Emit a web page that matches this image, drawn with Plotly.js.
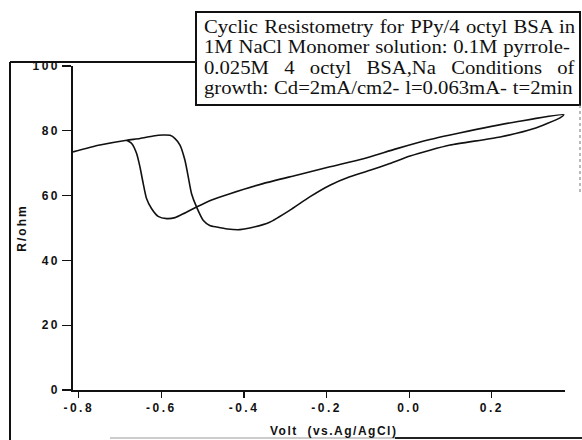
<!DOCTYPE html>
<html>
<head>
<meta charset="utf-8">
<script src="https://cdn.plot.ly/plotly-3.0.1.min.js"></script>
<style>
html, body { margin: 0; padding: 0; background: #fff; }
#chart { width: 582px; height: 440px; }
.xtick text, .ytick text { letter-spacing: 2.5px; }
.g-ytitle text { letter-spacing: 2px; }
g.annotation.note text { transform-box: fill-box; transform-origin: 0% 50%; transform: scaleX(1.15); }
g.annotation[data-index="0"] text { word-spacing: 1px; }
g.annotation[data-index="1"] text { word-spacing: 0.5px; }
g.annotation[data-index="2"] text { word-spacing: 8.8px; }
g.annotation[data-index="3"] text { word-spacing: 0.5px; }
g.annotation[data-index="4"] text { letter-spacing: 1.5px; }
</style>
</head>
<body>
<div id="chart"></div>
<script>
// Potential (V vs Ag/AgCl) and resistance (ohm), read along the cyclic sweep
const voltage = [
  -0.814, -0.749, -0.684, -0.652, -0.620, -0.596, -0.579, -0.567, -0.555, -0.543,
  -0.535, -0.527, -0.515, -0.499, -0.483, -0.466, -0.440, -0.410, -0.386, -0.338,
  -0.289, -0.241, -0.192, -0.144, -0.095, -0.047, 0.002, 0.050, 0.099, 0.220,
  0.300, 0.365, 0.374,
  0.260, 0.099, 0.050, -0.030, -0.111, -0.192, -0.273, -0.354, -0.434, -0.480,
  -0.515, -0.547, -0.567, -0.587, -0.608, -0.624, -0.636, -0.644, -0.652, -0.660,
  -0.672, -0.684
];
const resistance = [
  73.5, 75.6, 77.1, 77.6, 78.4, 78.7, 78.6, 77.6, 75.6, 70.9,
  65.8, 60.6, 56.5, 52.4, 50.8, 50.3, 49.7, 49.5, 50.0, 51.8,
  55.5, 59.6, 63.2, 65.8, 67.8, 69.9, 72.2, 74.0, 75.6, 78.1,
  80.6, 84.0, 85.0,
  82.8, 78.7, 77.3, 74.5, 71.4, 68.9, 66.3, 63.7, 60.6, 58.6,
  56.5, 54.4, 53.2, 52.9, 53.6, 56.0, 59.1, 63.7, 68.9, 73.0,
  76.1, 77.1
];
const xTicks = [-0.8, -0.6, -0.4, -0.2, 0.0, 0.2];
const xTickText = ["-0.8", "-0.6", "-0.4", "-0.2", "0.0", "0.2"];
const yTicks = [0, 20, 40, 60, 80, 100];
const yTickText = ["0", "20", "40", "60", "80", "100"];
const noteLines = [
  "Cyclic Resistometry for PPy/4 octyl BSA in",
  "1M NaCl Monomer solution: 0.1M pyrrole-",
  "0.025M 4 octyl BSA,Na Conditions of",
  "growth: Cd=2mA/cm2- l=0.063mA- t=2min"
];
const xTitle = "Volt  (vs.Ag/AgCl)";
const yTitle = "R/ohm";

// pixel -> paper helpers for decoration (plot area: left 73, right 565, top 66, bottom 390)
const L = 73, R = 565, T = 66, B = 390;
const px = v => (v - L) / (R - L);
const py = v => (B - v) / (B - T);

const annotations = noteLines.map((t, i) => ({
  text: t, xref: 'paper', yref: 'paper',
  x: px(202), y: py(27 + i * 20.3),
  xanchor: 'left', yanchor: 'middle', align: 'left', showarrow: false,
  font: { family: 'Liberation Serif, Times New Roman, serif', size: 18, color: '#111' }
}));
annotations.push({
  text: xTitle, xref: 'paper', yref: 'paper',
  x: px(268), y: py(431), xanchor: 'left', yanchor: 'middle', align: 'left', showarrow: false,
  font: { family: 'Liberation Sans, Arial, sans-serif', size: 12, color: '#111', weight: 'bold' }
});

const shapes = [
  // note box
  { type: 'rect', xref: 'paper', yref: 'paper', x0: px(196), x1: px(580), y0: py(105), y1: py(12),
    line: { color: '#111', width: 2 }, fillcolor: 'rgba(0,0,0,0)' },
  // scanned page frame lines
  { type: 'line', xref: 'paper', yref: 'paper', x0: px(10), x1: px(196), y0: py(62), y1: py(62), line: { color: '#111', width: 2 } },
  { type: 'line', xref: 'paper', yref: 'paper', x0: px(10), x1: px(10), y0: py(62), y1: py(440), line: { color: '#111', width: 2 } },
  { type: 'line', xref: 'paper', yref: 'paper', x0: px(580), x1: px(580), y0: py(105), y1: py(195), line: { color: '#777', width: 1, dash: 'dot' } },
  { type: 'line', xref: 'paper', yref: 'paper', x0: px(110), x1: px(582), y0: py(438), y1: py(438), line: { color: '#999', width: 1 } },
  { type: 'line', xref: 'paper', yref: 'paper', x0: px(395), x1: px(582), y0: py(438), y1: py(438), line: { color: '#222', width: 1.8 } }
];

const trace = {
  x: voltage, y: resistance, type: 'scatter', mode: 'lines',
  line: { color: '#111', width: 1.6, shape: 'spline', smoothing: 0.6 },
  hoverinfo: 'skip'
};

const tickFont = { family: 'Liberation Sans, Arial, sans-serif', size: 12, color: '#111', weight: 'bold' };

const layout = {
  width: 582, height: 440,
  margin: { l: L, r: 582 - R, t: T, b: 440 - B },
  paper_bgcolor: '#fff', plot_bgcolor: '#fff',
  showlegend: false,
  xaxis: {
    range: [-0.814, 0.377], tickvals: xTicks, ticktext: xTickText,
    ticks: 'outside', ticklen: 6, tickwidth: 1.2, tickcolor: '#111',
    showline: true, linecolor: '#111', linewidth: 1.6,
    showgrid: false, zeroline: false, tickfont: tickFont
  },
  yaxis: {
    range: [0, 100], tickvals: yTicks, ticktext: yTickText,
    ticks: 'outside', ticklen: 9, tickwidth: 1.2, tickcolor: '#111',
    showline: true, linecolor: '#111', linewidth: 1.6,
    showgrid: false, zeroline: false, tickfont: tickFont,
    title: { text: yTitle, standoff: 3, font: { family: 'Liberation Sans, Arial, sans-serif', size: 12, color: '#111', weight: 'bold' } }
  },
  annotations: annotations,
  shapes: shapes
};

Plotly.newPlot('chart', [trace], layout, { staticPlot: true, displayModeBar: false }).then(() => {
  document.querySelectorAll('g.annotation').forEach(g => {
    const i = +g.getAttribute('data-index');
    if (i < noteLines.length) g.classList.add('note');
  });
});
</script>
</body>
</html>
